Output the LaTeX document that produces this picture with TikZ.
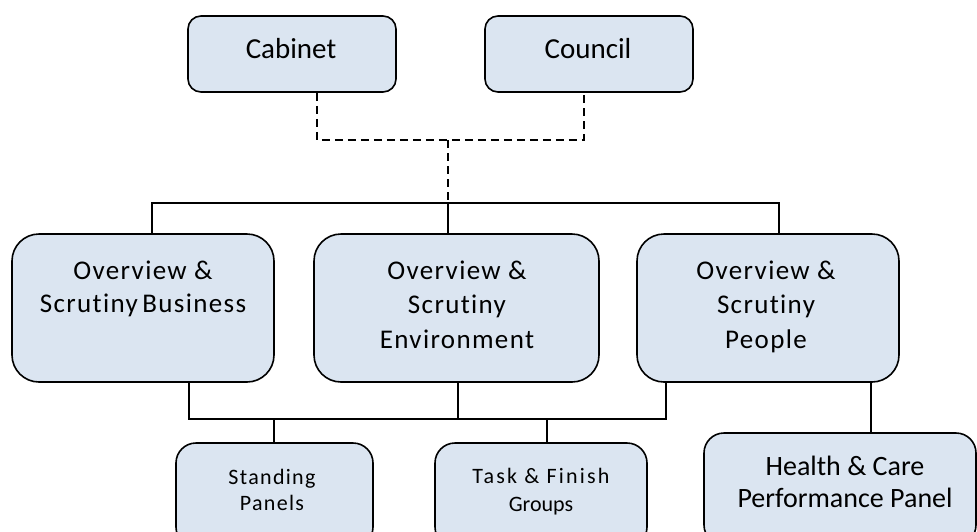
\documentclass[tikz,border=0pt]{standalone}
\usepackage{fontspec}
\setmainfont{Carlito}[RawFeature={-liga}]
\newfontfamily\bigf{Carlito}[LetterSpace=5, RawFeature={-liga}]
\newfontfamily\smallf{Carlito}[LetterSpace=6, RawFeature={-liga}]
\newfontfamily\widef{Carlito}[LetterSpace=10, RawFeature={-liga}]
\newcommand\mltext[1]{\vtop{\halign{\hfil##\hfil\cr#1\crcr}}}
\definecolor{boxfill}{HTML}{DBE5F1}
\tikzset{
  orgbox/.style={draw=black, line width=1.6pt, fill=boxfill, inner sep=0pt, rectangle},
  topbox/.style={orgbox, rounded corners=13pt, minimum width=208pt, minimum height=76pt},
  midbox/.style={orgbox, rounded corners=27pt, minimum height=148pt},
  lowbox/.style={orgbox, rounded corners=20pt},
  lbl/.style={anchor=base, inner sep=0pt, text=black},
  conn/.style={draw=black, line width=1.5pt},
  dashconn/.style={conn, dash pattern=on 8pt off 5pt},
}
\begin{document}
\begin{tikzpicture}[x=1pt, y=-1pt]
\clip (0,0) rectangle (977,531);
\fill[white] (0,0) rectangle (977,531);
% top boxes
\node[topbox] (cab) at (292,54) {};
\node[topbox] (cou) at (589,54) {};
% middle boxes
\node[midbox, minimum width=262pt] (bus) at (143,308) {};
\node[midbox, minimum width=285pt] (env) at (456.5,308) {};
\node[midbox, minimum width=262pt] (peo) at (768,308) {};
% bottom boxes
\node[lowbox, minimum width=197pt, minimum height=104pt] (sta) at (274.5,495) {};
\node[lowbox, minimum width=212pt, minimum height=104pt] (tas) at (541,495) {};
\node[lowbox, minimum width=272pt, minimum height=112pt] (hea) at (840,489) {};
% labels
\node[lbl, font=\fontsize{29}{34}\selectfont] (cabt) at (291,58) {Cabinet};
\node[lbl, font=\fontsize{29}{34}\selectfont] (cout) at (588,58) {Council};
\node[lbl, font=\bigf\fontsize{27}{33}\selectfont] (bust) at (143,279) {\mltext{Overview \&\cr Scrutiny\,Business}};
\node[lbl, font=\bigf\fontsize{27}{34.5}\selectfont] (envt) at (457,279) {\mltext{Overview \&\cr Scrutiny\cr Environment}};
\node[lbl, font=\bigf\fontsize{27}{34.5}\selectfont] (peot) at (766,279) {\mltext{Overview \&\cr Scrutiny\cr People}};
\node[lbl, font=\smallf\fontsize{22}{26}\selectfont] (stat) at (272,484) {\mltext{Standing\cr Panels}};
\node[lbl, font=\fontsize{22}{28}\selectfont] (tast) at (541,483) {\mltext{{\widef Task \& Finish}\cr Groups}};
\node[lbl, font=\fontsize{28}{32}\selectfont] (heat) at (845,475) {\mltext{Health \& Care\cr Performance Panel}};
% dashed connectors
\coordinate (dj) at (448,140);
\coordinate (tb) at (448,203);
\draw[dashconn] ([xshift=25pt]cab.south) |- (dj) -| ([xshift=-5pt]cou.south);
\draw[dashconn] (dj) -- (tb);
% upper solid connectors
\draw[conn] ([xshift=9pt]bus.north) |- (tb) -| ([xshift=11pt]peo.north);
\draw[conn] (tb) -- (tb |- env.north);
% lower solid connectors
\coordinate (bb) at (458,419);
\draw[conn] ([xshift=46pt]bus.south) |- (bb) -| ([xshift=-102pt]peo.south);
\draw[conn] (env.south -| bb) -- (bb);
\draw[conn] ([xshift=-0.5pt]sta.north) -- ([xshift=-0.5pt]sta.north |- bb);
\draw[conn] ([xshift=6pt]tas.north) -- ([xshift=6pt]tas.north |- bb);
\draw[conn] ([xshift=103pt]peo.south) -- ([xshift=103pt]peo.south |- hea.north);
\end{tikzpicture}
\end{document}
